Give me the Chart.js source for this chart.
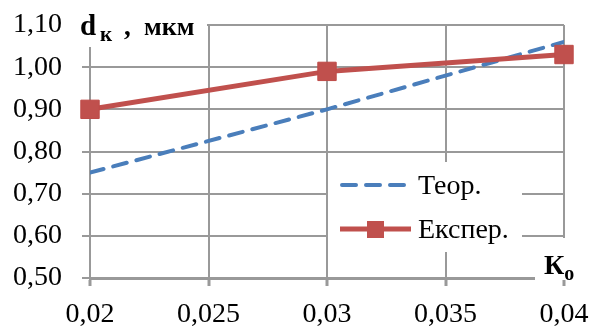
<!DOCTYPE html>
<html>
<head>
<meta charset="utf-8">
<script src="https://cdn.jsdelivr.net/npm/chart.js@4"></script>
<style>
  html, body { margin: 0; padding: 0; background: #fff; }
  #wrap { width: 591px; height: 327px; }
</style>
</head>
<body>
<div id="wrap"><canvas id="chart" width="591" height="327"></canvas></div>
<script>
// chart data
const kValues = [0.02, 0.03, 0.04];
const theorValues = [0.75, 0.90, 1.06];
const experValues = [0.90, 0.99, 1.03];
const xTicks = [0.02, 0.025, 0.03, 0.035, 0.04];
const xTickLabels = ['0,02', '0,025', '0,03', '0,035', '0,04'];
const yTicks = [0.5, 0.6, 0.7, 0.8, 0.9, 1.0, 1.1];
const yTickLabels = ['0,50', '0,60', '0,70', '0,80', '0,90', '1,00', '1,10'];

const BLUE = '#4A7EBB';
const RED = '#BE4B48';
const GRID = '#999999';
const SERIF = '"Liberation Serif", "Times New Roman", serif';

// titles and legend, drawn over the plot with white boxes like the original
const overlayPlugin = {
    id: 'overlay',
    afterDraw(chart) {
        const ctx = chart.ctx;
        ctx.save();
        ctx.fillStyle = '#fff';
        ctx.fillRect(70, 0, 137, 47);     // y title box
        ctx.fillRect(535, 238, 56, 42);   // x title box
        ctx.fillRect(328, 162, 194, 90);  // legend box

        ctx.fillStyle = '#000';
        ctx.textBaseline = 'alphabetic';
        ctx.textAlign = 'left';
        // d_к , мкм
        ctx.font = 'bold 29px ' + SERIF;
        ctx.fillText('d', 80, 35);
        ctx.font = 'bold 27px ' + SERIF;
        ctx.fillText(',', 124, 35);
        ctx.font = 'bold 26px ' + SERIF;
        ctx.fillText('мкм', 144, 35);
        ctx.font = 'bold 21px ' + SERIF;
        ctx.fillText('к', 100, 41);
        // К_о
        ctx.font = 'bold 28px ' + SERIF;
        ctx.fillText('К', 544, 274);
        const x = 544 + ctx.measureText('К').width;
        ctx.font = 'bold 20px ' + SERIF;
        ctx.fillText('о', x, 280);

        // legend
        const ds = chart.data.datasets;
        ctx.font = '28px ' + SERIF;
        ctx.textBaseline = 'middle';
        ctx.lineCap = 'round';
        // Теор.
        ctx.strokeStyle = ds[0].borderColor;
        ctx.lineWidth = ds[0].borderWidth;
        ctx.setLineDash(ds[0].borderDash);
        ctx.beginPath();
        ctx.moveTo(342, 185);
        ctx.lineTo(408, 185);
        ctx.stroke();
        ctx.setLineDash([]);
        ctx.fillStyle = '#000';
        ctx.fillText(ds[0].label, 418, 187);
        // Експер.
        ctx.lineCap = 'butt';
        ctx.strokeStyle = ds[1].borderColor;
        ctx.lineWidth = ds[1].borderWidth;
        ctx.beginPath();
        ctx.moveTo(340, 229);
        ctx.lineTo(411, 229);
        ctx.stroke();
        ctx.fillStyle = ds[1].pointBackgroundColor;
        ctx.fillRect(367, 221, 17, 17);
        ctx.fillStyle = '#000';
        ctx.fillText(ds[1].label, 418, 231);
        ctx.restore();
    }
};

const ctx = document.getElementById('chart').getContext('2d');
new Chart(ctx, {
    type: 'line',
    data: {
        datasets: [{
            label: 'Теор.',
            data: kValues.map((k, i) => ({ x: k, y: theorValues[i] })),
            borderColor: BLUE,
            borderWidth: 4,
            borderDash: [14, 10],
            borderCapStyle: 'round',
            pointRadius: 0,
            order: 1
        }, {
            label: 'Експер.',
            data: kValues.map((k, i) => ({ x: k, y: experValues[i] })),
            borderColor: '#C0504D',
            borderWidth: 5,
            pointStyle: 'rect',
            pointRadius: 13,
            pointBackgroundColor: '#C0504D',
            pointBorderColor: RED,
            pointBorderWidth: 1,
            clip: false,
            order: 0
        }]
    },
    options: {
        responsive: false,
        animation: false,
        layout: { padding: { top: 25, right: 27, left: 0, bottom: 0 } },
        plugins: {
            legend: { display: false },
            tooltip: { enabled: false }
        },
        scales: {
            x: {
                type: 'linear',
                min: 0.02,
                max: 0.04,
                afterBuildTicks: (scale) => { scale.ticks = xTicks.map(v => ({ value: v })); },
                afterFit: (scale) => {
                    scale.height = 49;
                    scale.paddingLeft = 0;
                    scale.paddingRight = 0;
                },
                ticks: {
                    autoSkip: false,
                    maxRotation: 0,
                    padding: 12,
                    color: '#000',
                    font: { family: SERIF, size: 28 },
                    callback: (v) => xTickLabels[xTicks.indexOf(v)]
                },
                grid: { color: GRID, lineWidth: 2, tickLength: 8, tickWidth: 3 },
                border: { color: GRID, width: 3 }
            },
            y: {
                min: 0.5,
                max: 1.1,
                afterBuildTicks: (scale) => { scale.ticks = yTicks.map(v => ({ value: v })); },
                afterFit: (scale) => {
                    scale.width = 90;
                    scale.paddingTop = 0;
                    scale.paddingBottom = 0;
                },
                ticks: {
                    padding: 20,
                    color: '#000',
                    font: { family: SERIF, size: 28 },
                    callback: (v) => yTickLabels[yTicks.indexOf(v)]
                },
                grid: { color: GRID, lineWidth: 2, tickLength: 8 },
                border: { color: GRID, width: 2 }
            }
        }
    },
    plugins: [overlayPlugin]
});
</script>
</body>
</html>
